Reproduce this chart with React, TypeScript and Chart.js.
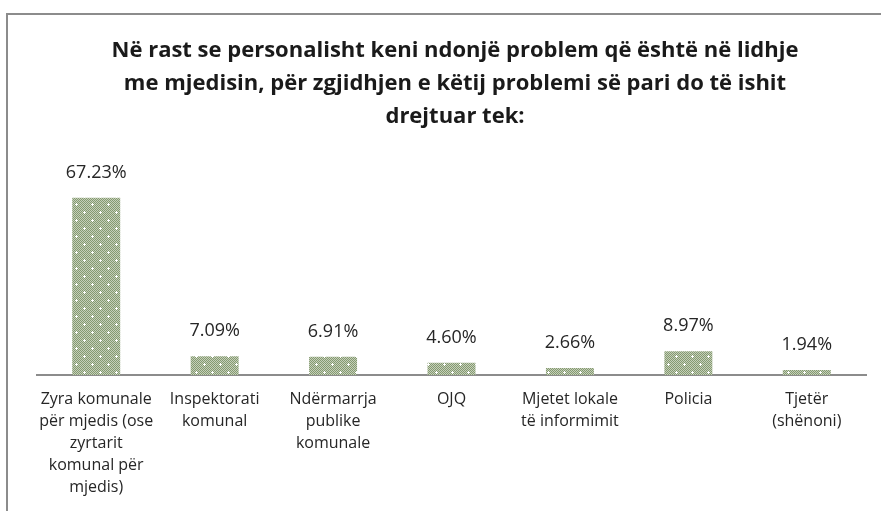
import React, { useEffect, useRef } from "react";
import { Chart, registerables } from "chart.js";

Chart.register(...registerables);

const titleLines = [
  "Në rast se personalisht keni ndonjë problem që është në lidhje",
  "me mjedisin, për zgjidhjen e këtij problemi së pari do të ishit",
  "drejtuar tek:",
];

const categories: string[][] = [
  ["Zyra komunale", "për mjedis (ose", "zyrtarit", "komunal për", "mjedis)"],
  ["Inspektorati", "komunal"],
  ["Ndërmarrja", "publike", "komunale"],
  ["OJQ"],
  ["Mjetet lokale", "të informimit"],
  ["Policia"],
  ["Tjetër", "(shënoni)"],
];

const values = [67.23, 7.09, 6.91, 4.6, 2.66, 8.97, 1.94];

function makePattern(): CanvasPattern | string {
  const c = document.createElement("canvas");
  c.width = 16;
  c.height = 16;
  const g = c.getContext("2d");
  if (!g) return "#9aab8a";
  for (let y = 0; y < 16; y++) {
    for (let x = 0; x < 16; x++) {
      g.fillStyle = (x + y) % 2 === 0 ? "#849a70" : "#c6cfba";
      g.fillRect(x, y, 1, 1);
    }
  }
  g.fillStyle = "#ffffff";
  const cross = (cx: number, cy: number) => {
    g.fillRect(cx - 1, cy, 3, 1);
    g.fillRect(cx, cy - 1, 1, 3);
  };
  cross(4, 4);
  cross(12, 12);
  const p = g.createPattern(c, "repeat");
  return p || "#9aab8a";
}

const titlePlugin = {
  id: "customTitle",
  afterDraw(chart: any) {
    const ctx = chart.ctx;
    ctx.save();
    ctx.fillStyle = "#1a1a1a";
    ctx.font = "bold 22px 'Open Sans'";
    ctx.textAlign = "center";
    ctx.textBaseline = "middle";
    const ys = [51, 84, 117];
    titleLines.forEach((t, i) => ctx.fillText(t, 455, ys[i]));
    ctx.restore();
  },
};

const labelPlugin = {
  id: "valueLabels",
  afterDatasetsDraw(chart: any) {
    const ctx = chart.ctx;
    const meta = chart.getDatasetMeta(0);
    ctx.save();
    ctx.fillStyle = "#262626";
    ctx.font = "18px 'Open Sans'";
    ctx.textAlign = "center";
    ctx.textBaseline = "middle";
    meta.data.forEach((bar: any, i: number) => {
      ctx.fillText(values[i].toFixed(2) + "%", bar.x, bar.y - 25);
    });
    ctx.restore();
  },
};

export default function App() {
  const ref = useRef<HTMLCanvasElement>(null);
  useEffect(() => {
    if (!ref.current) return;
    const chart = new Chart(ref.current, {
      type: "bar",
      data: {
        labels: categories,
        datasets: [
          {
            data: values,
            backgroundColor: makePattern() as any,
            borderWidth: 0,
            barPercentage: 0.405,
            categoryPercentage: 1,
          },
        ],
      },
      options: {
        animation: false,
        responsive: false,
        maintainAspectRatio: false,
        layout: { padding: { top: 164, left: 37, right: 15, bottom: 0 } },
        plugins: {
          legend: { display: false },
          title: { display: false },
          tooltip: { enabled: false },
        },
        scales: {
          x: {
            grid: { display: false },
            border: { display: true, color: "#8c8c8c", width: 2 },
            ticks: {
              color: "#262626",
              font: { family: "'Open Sans'", size: 16, lineHeight: 1.375 },
              padding: 5,
              maxRotation: 0,
              autoSkip: false,
            },
            afterFit: (scale: any) => {
              scale.height = 136;
            },
          },
          y: {
            display: false,
            min: 0,
            max: 80,
          },
        },
      },
      plugins: [titlePlugin, labelPlugin],
    });
    return () => chart.destroy();
  }, []);
  return (
    <div style={{ position: "fixed", left: 0, top: 0, width: 881, height: 511, background: "#fff" }}>
      <div
        style={{
          position: "absolute",
          left: 6,
          top: 13,
          width: 880,
          height: 520,
          borderLeft: "2px solid #8c8c8c",
          borderTop: "2px solid #8c8c8c",
        }}
      />
      <canvas ref={ref} width={881} height={511} style={{ position: "absolute", left: 0, top: 0 }} />
    </div>
  );
}
